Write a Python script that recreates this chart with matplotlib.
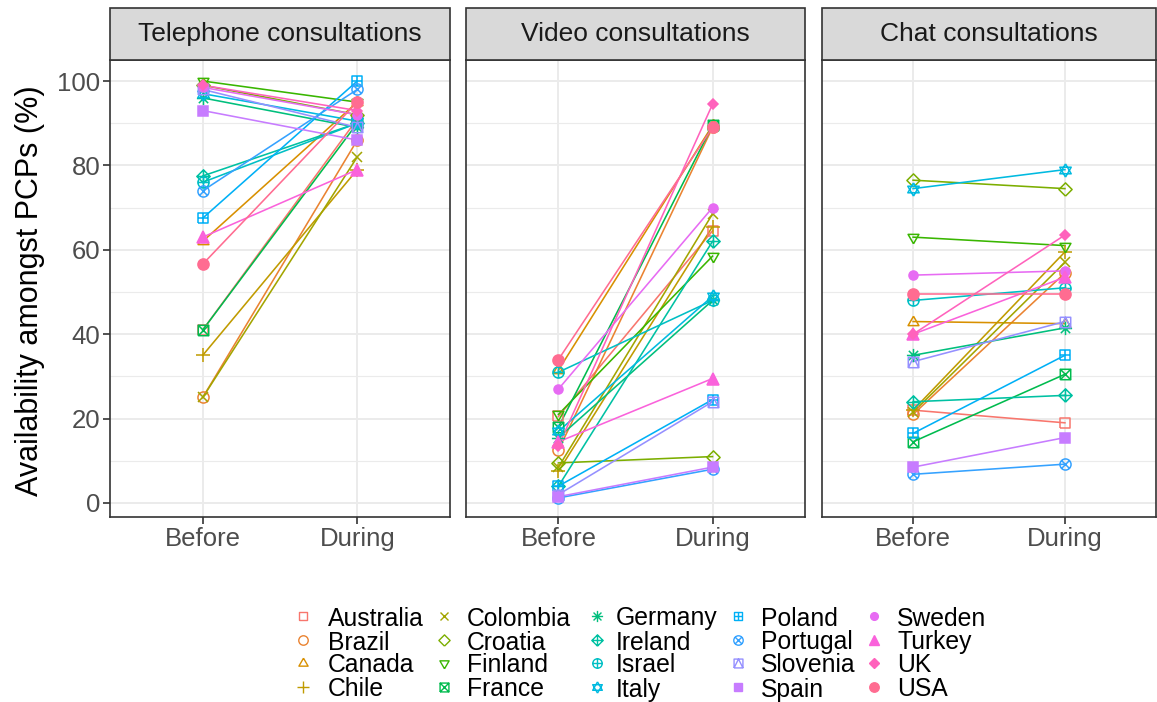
import matplotlib.pyplot as plt
from matplotlib.path import Path
from matplotlib.lines import Line2D
from matplotlib.patches import Rectangle

plt.rcParams['font.family'] = ['Liberation Sans', 'DejaVu Sans']

# data (percent of PCPs)
countries = ["Australia", "Brazil", "Canada", "Chile", "Colombia", "Croatia",
             "Finland", "France", "Germany", "Ireland", "Israel", "Italy",
             "Poland", "Portugal", "Slovenia", "Spain", "Sweden", "Turkey",
             "UK", "USA"]
periods = ["Before", "During"]
facets = ["Telephone consultations", "Video consultations", "Chat consultations"]

tel_before = [41, 25, 62, 35, 25, 99, 100, 41, 96, 77.5, 76, 97, 67.5, 74, 98, 93, 98.5, 63, 99, 56.6]
tel_during = [91, 86, 95, 79, 82, 92, 95, 90, 89, 90, 90, 90.5, 100, 98, 89, 86, 92, 79, 93, 95]
vid_before = [20.5, 12.5, 31.5, 7.5, 8.5, 9.5, 21, 18, 15.5, 4, 31, 17, 4, 1.2, 2, 1.5, 27, 14.5, 13.5, 34]
vid_during = [64.5, 89, 89.5, 65.5, 68.5, 11, 58.5, 89.5, 48, 62, 48, 49, 24.5, 8, 24, 8.5, 70, 29.5, 94.5, 89]
chat_before = [22, 21, 43, 22, 21.5, 76.5, 63, 14.5, 35, 24, 48, 74.5, 16.5, 6.8, 33.5, 8.5, 54, 40, 40, 49.5]
chat_during = [19, 54.5, 42.5, 59.5, 57, 74.5, 61, 30.5, 41.5, 25.5, 51, 79, 35, 9.2, 43, 15.5, 55, 53.5, 63.5, 49.5]

colors = ["#F8766D", "#EA8331", "#D89000", "#C09B00", "#A3A500", "#7CAE00", "#39B600",
          "#00BB4E", "#00BF7D", "#00C1A3", "#00BFC4", "#00BAE0", "#00B0F6", "#35A2FF",
          "#9590FF", "#C77CFF", "#E76BF3", "#FA62DB", "#FF62BC", "#FF6C91"]


def poly(*lines):
    verts, codes = [], []
    for ln in lines:
        verts += ln
        codes += [Path.MOVETO] + [Path.LINETO] * (len(ln) - 1)
    return Path(verts, codes)


sq = [(-1, -1), (1, -1), (1, 1), (-1, 1), (-1, -1)]
dia = [(0, -1), (1, 0), (0, 1), (-1, 0), (0, -1)]
tri_up = [(0, 1), (-0.866, -0.5), (0.866, -0.5), (0, 1)]
tri_dn = [(0, -1), (-0.866, 0.5), (0.866, 0.5), (0, -1)]
plus = [[(-1, 0), (1, 0)], [(0, -1), (0, 1)]]
cross = [[(-0.707, -0.707), (0.707, 0.707)], [(-0.707, 0.707), (0.707, -0.707)]]
circ = Path.unit_circle()

# (marker, size, filled) mimicking ggplot shapes 0..19
shapes = [
    (poly(sq), 7.5, False),
    (circ, 8.0, False),
    (poly(tri_up), 9.0, False),
    ('+', 9.5, False),
    ('x', 7.5, False),
    (poly(dia), 9.5, False),
    (poly(tri_dn), 9.0, False),
    (poly(sq, [(-1, -1), (1, 1)], [(-1, 1), (1, -1)]), 7.5, False),
    (poly(*plus, *cross), 9.5, False),
    (poly(dia, *plus), 9.5, False),
    (Path.make_compound_path(circ, poly(*plus)), 8.0, False),
    (poly(tri_up, tri_dn), 9.5, False),
    (poly(sq, *plus), 7.5, False),
    (Path.make_compound_path(circ, poly(*cross)), 8.0, False),
    (poly(sq, [(-1, -1), (0, 1), (1, -1)]), 7.5, False),
    ('s', 7.0, True),
    ('o', 6.5, True),
    ('^', 8.0, True),
    ('D', 5.5, True),
    ('o', 8.0, True),
]

W, H = 1157, 702
fig = plt.figure(figsize=(W / 100, H / 100), dpi=100)


def fx(px):
    return px / W


def fy(py):
    return 1 - py / H


panels = [(110, 450), (466, 805), (822, 1156)]
top, bottom, strip_top = 60, 517, 8
data = [(tel_before, tel_during), (vid_before, vid_during), (chat_before, chat_during)]
dark = "#333333"

for i, (l, r) in enumerate(panels):
    ax = fig.add_axes([fx(l), fy(bottom), (r - l) / W, (bottom - top) / H])
    ax.set_xlim(0.4, 2.6)
    ax.set_ylim(-3.32, 104.98)
    ax.set_yticks(range(0, 101, 20))
    ax.set_yticks(range(10, 100, 20), minor=True)
    ax.set_xticks([1, 2])
    ax.set_xticklabels(periods)
    ax.grid(True, which='major', color='#EBEBEB', lw=1.4)
    ax.grid(True, which='minor', axis='y', color='#EBEBEB', lw=0.8)
    ax.set_axisbelow(True)
    for s in ax.spines.values():
        s.set_color(dark)
        s.set_linewidth(1.2)
    ax.tick_params(which='major', color=dark, length=5, width=1.2,
                   labelsize=18.5, labelcolor='#4D4D4D', pad=2)
    ax.tick_params(which='minor', length=0)
    if i > 0:
        ax.tick_params(axis='y', left=False, labelleft=False)

    before, during = data[i]
    for j in range(len(countries)):
        ax.plot([1, 2], [before[j], during[j]], color=colors[j], lw=1.15, zorder=2)
    for j in range(len(countries)):
        mk, ms, filled = shapes[j]
        ax.plot([1, 2], [before[j], during[j]], ls='none', marker=mk, ms=ms,
                mfc=colors[j] if filled else 'none', mec=colors[j], mew=1.1, zorder=3)

    fig.add_artist(Rectangle((fx(l), fy(top)), (r - l) / W, (top - strip_top) / H,
                             transform=fig.transFigure, facecolor='#D9D9D9',
                             edgecolor=dark, lw=1.2))
    fig.text(fx((l + r) / 2), fy((top + strip_top) / 2), facets[i], ha='center',
             va='center', fontsize=19, color='#1A1A1A')

fig.text(fx(30), fy(291), "Availability amongst PCPs (%)", rotation=90,
         ha='center', va='center', fontsize=22, color='black')

# legend, 4 rows x 5 columns
col_marker = [303, 444, 597, 738, 874]
col_text = [328, 467, 616, 761, 897]
row_y = [616, 640, 663, 687]
for j, name in enumerate(countries):
    c, rr = j // 4, j % 4
    mk, ms, filled = shapes[j]
    fig.add_artist(Line2D([fx(col_marker[c])], [fy(row_y[rr])], transform=fig.transFigure,
                          ls='none', marker=mk, ms=ms * 0.85,
                          mfc=colors[j] if filled else 'none', mec=colors[j], mew=1.0))
    fig.text(fx(col_text[c]), fy(row_y[rr]), name, ha='left', va='center_baseline',
             fontsize=17.8, color='black')

fig.savefig('out.png', dpi=100)
